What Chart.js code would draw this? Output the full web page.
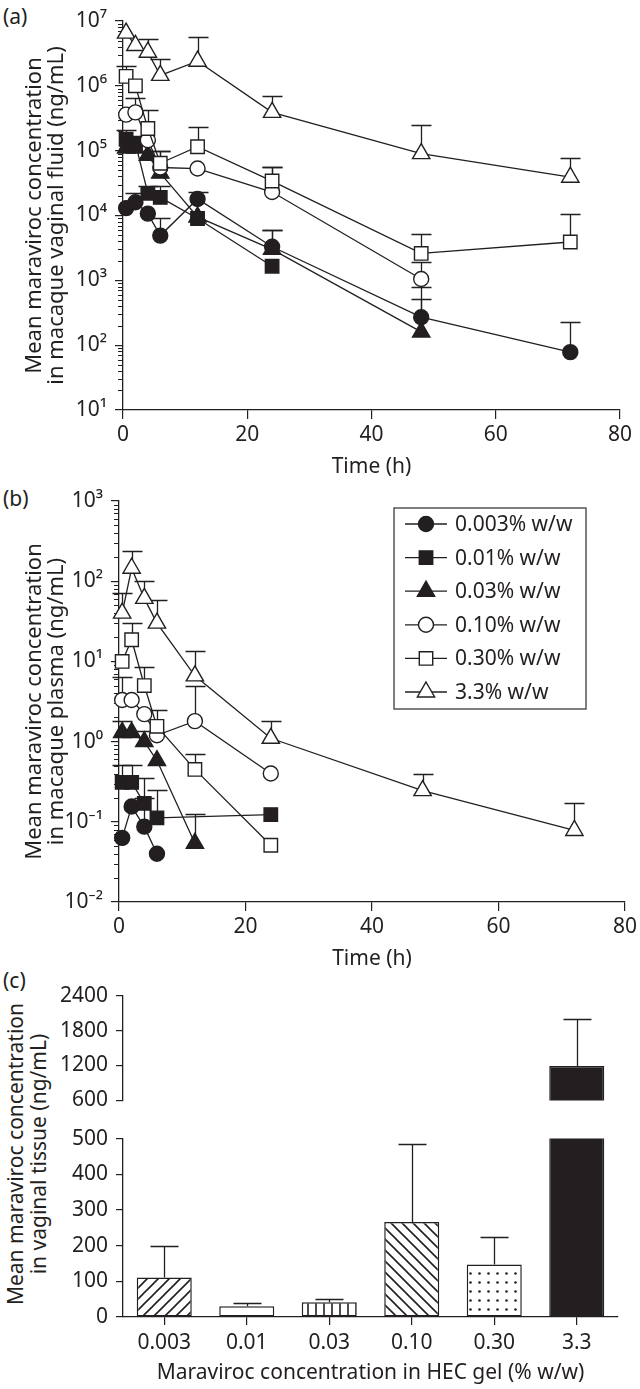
<!DOCTYPE html>
<html>
<head>
<meta charset="utf-8">
<script src="https://cdn.jsdelivr.net/npm/chart.js@4.4.1/dist/chart.umd.min.js"></script>
<style>
  body { margin: 0; background: #fff; width: 640px; height: 1389px; position: relative; overflow: hidden;
         font-family: "Noto Sans", sans-serif; color: #231f20; }
  canvas { position: absolute; left: 0; }
  .tag { position: absolute; left: 3px; font-size: 21px; line-height: 24px; }
  #ctitle { position: absolute; left: 27px; top: 1154px; transform: translate(-50%, -50%) rotate(-90deg);
            white-space: nowrap; text-align: center; font-size: 21px; line-height: 23px; }
</style>
</head>
<body>
<div class="tag" style="top:4px">(a)</div>
<div class="tag" style="top:486px">(b)</div>
<div class="tag" style="top:968px">(c)</div>
<div id="ctitle">Mean maraviroc concentration<br>in vaginal tissue (ng/mL)</div>

<canvas id="fluid" width="640" height="485" style="top:0px"></canvas>
<canvas id="plasma" width="640" height="497" style="top:480px"></canvas>
<canvas id="tissueTop" width="640" height="146" style="top:975px"></canvas>
<canvas id="tissue" width="640" height="271" style="top:1118px"></canvas>

<script>
const INK = '#231f20';
const FONT = '"Noto Sans", sans-serif';

// sampling times (h), shared by (a) and (b)
const times = [0.5, 2, 4, 6, 12, 24, 48, 72];
const doses = ['0.003% w/w', '0.01% w/w', '0.03% w/w', '0.10% w/w', '0.30% w/w', '3.3% w/w'];

// (a) vaginal fluid, ng/mL  (mean, and mean + SD for the error bar)
const fluid003 = [1.3e4, 1.6e4, 1.07e4, 4.9e3, 1.8e4, 3.3e3, 270, 78];
const fluid003Up = [null, 2.2e4, null, 9.3e3, 2.3e4, 5.9e3, 520, 230];
const fluid001 = [1.5e5, 1.3e5, 2.2e4, 1.9e4, 9.0e3, 1.65e3, null, null];
const fluid001Up = [2.1e5, null, 2.9e4, 2.9e4, null, null, null, null];
const fluid003b = [1.1e5, 1.1e5, 8.5e4, 4.5e4, 9.5e3, 3.0e3, 160, null];
const fluid003bUp = [null, null, null, 1.0e5, null, 5.9e3, 800, null];
const fluid010 = [3.6e5, 3.9e5, 1.45e5, 5.5e4, 5.3e4, 2.3e4, 1.05e3, null];
const fluid010Up = [null, 6.5e5, null, null, null, 5.5e4, 1.9e3, null];
const fluid030 = [1.4e6, 1.0e6, 2.2e5, 6.4e4, 1.15e5, 3.4e4, 2.6e3, 3.9e3];
const fluid030Up = [2.0e6, null, 4.2e5, 1.0e5, 2.3e5, 5.5e4, 5.2e3, 1.07e4];
const fluid33 = [6.5e6, 4.2e6, 3.3e6, 1.45e6, 2.4e6, 3.9e5, 9.0e4, 3.9e4];
const fluid33Up = [null, null, 5.3e6, 2.6e6, 5.6e6, 6.9e5, 2.5e5, 7.6e4];

// (b) plasma, ng/mL
const plasma003 = [0.063, 0.155, 0.087, 0.04, null, null, null, null];
const plasma003Up = [null, null, 0.2, null, null, null, null, null];
const plasma001 = [0.31, 0.31, 0.17, 0.112, null, 0.123, null, null];
const plasma001Up = [0.51, 0.51, 0.35, 0.25, null, null, null, null];
const plasma003b = [1.3, 1.3, 1.0, 0.58, 0.054, null, null, null];
const plasma003bUp = [1.8, null, 1.35, null, 0.126, null, null, null];
const plasma010 = [3.3, 3.3, 2.2, 1.2, 1.8, 0.40, null, null];
const plasma010Up = [6.3, null, null, null, 4.9, null, null, null];
const plasma030 = [10, 18.6, 5.0, 1.55, 0.45, 0.051, null, null];
const plasma030Up = [null, 30, 8.5, 2.5, 0.71, null, null, null];
const plasma33 = [40, 145, 61, 30, 6.6, 1.1, 0.245, 0.078];
const plasma33Up = [71, 240, 100, 58, 13.4, 1.8, 0.40, 0.17];

// (c) vaginal tissue, ng/mL
const gelLabels = ['0.003', '0.01', '0.03', '0.10', '0.30', '3.3'];
const tissueMean = [111, 30, 41, 266, 147, 1190];
const tissueUp = [198, 40, 51, 486, 225, 1990];

const markers = [
  { style: 'circle', r: 7.5, fill: INK },
  { style: 'rect', r: 9.5, fill: INK },
  { style: 'triangle', r: 10, fill: INK },
  { style: 'circle', r: 7.5, fill: '#fff' },
  { style: 'rect', r: 9.5, fill: '#fff' },
  { style: 'triangle', r: 10, fill: '#fff' }
];

const SUP = { '-': '\u207B', '0': '\u2070', '1': '\u00B9', '2': '\u00B2', '3': '\u00B3', '4': '\u2074',
              '5': '\u2075', '6': '\u2076', '7': '\u2077', '8': '\u2078', '9': '\u2079' };
function powLabel(v) {
  const e = Math.round(Math.log10(v));
  return '10' + String(e).split('').map(c => SUP[c]).join('');
}

// upper error bars, drawn under the markers
const errorBars = {
  id: 'errorBars',
  beforeDatasetsDraw(chart, args, opts) {
    const ctx = chart.ctx, a = chart.chartArea;
    ctx.save();
    ctx.beginPath();
    ctx.rect(a.left - 20, a.top - 1, a.right - a.left + 40, a.bottom - a.top + 1);
    ctx.clip();
    ctx.strokeStyle = INK;
    ctx.lineWidth = 1.3;
    chart.data.datasets.forEach((ds, i) => {
      if (!ds.upper) return;
      const meta = chart.getDatasetMeta(i);
      const ys = chart.scales[meta.yAxisID];
      meta.data.forEach((el, j) => {
        const u = ds.upper[j];
        if (u == null) return;
        const x = Math.round(el.x) + 0.5;
        const yTop = Math.round(ys.getPixelForValue(u)) + 0.5;
        ctx.beginPath();
        ctx.moveTo(x, el.y);
        ctx.lineTo(x, yTop);
        ctx.moveTo(x - opts.cap / 2, yTop);
        ctx.lineTo(x + opts.cap / 2, yTop);
        ctx.stroke();
      });
    });
    ctx.restore();
  }
};

// short minor ticks between the decades of a log axis
const logMinorTicks = {
  id: 'logMinorTicks',
  beforeDatasetsDraw(chart) {
    const s = chart.scales.y;
    if (s.type !== 'logarithmic') return;
    const ctx = chart.ctx;
    const lo = Math.round(Math.log10(s.min)), hi = Math.round(Math.log10(s.max));
    ctx.save();
    ctx.strokeStyle = INK;
    ctx.lineWidth = 1;
    ctx.beginPath();
    for (let e = lo; e < hi; e++) {
      for (let k = 2; k < 10; k++) {
        const y = Math.round(s.getPixelForValue(k * Math.pow(10, e))) + 0.5;
        ctx.moveTo(s.right - 5, y);
        ctx.lineTo(s.right, y);
      }
    }
    ctx.stroke();
    ctx.restore();
  }
};

// boxed legend inside panel (b)
const boxLegend = {
  id: 'boxLegend',
  afterDraw(chart, args, opts) {
    if (!opts.show) return;
    const ctx = chart.ctx, a = chart.chartArea;
    const bx = a.left + 275, by = a.top + 7, bw = 192, bh = 201;
    ctx.save();
    ctx.strokeStyle = '#555';
    ctx.lineWidth = 1.5;
    ctx.strokeRect(bx, by, bw, bh);
    ctx.font = '21px ' + FONT;
    ctx.textBaseline = 'middle';
    ctx.textAlign = 'left';
    chart.data.datasets.forEach((ds, i) => {
      const y = by + 16 + i * 33.6;
      ctx.strokeStyle = INK;
      ctx.lineWidth = 1.3;
      ctx.beginPath();
      ctx.moveTo(bx + 11, y);
      ctx.lineTo(bx + 53, y);
      ctx.stroke();
      ctx.fillStyle = ds.pointBackgroundColor;
      ctx.lineWidth = 1.4;
      Chart.helpers.drawPoint(ctx, { pointStyle: ds.pointStyle, radius: ds.pointRadius, rotation: 0, borderWidth: 1.4 }, bx + 32, y);
      ctx.fillStyle = INK;
      ctx.fillText(ds.label, bx + 61, y + 1);
    });
    ctx.restore();
  }
};

const tickFont = { family: FONT, size: 21 };
const axisGrid = (len) => ({ drawOnChartArea: false, tickLength: len, color: INK, lineWidth: 1.2 });
const axisBorder = { color: INK, width: 1.3 };

function timeChart(id, series, uppers, expMin, expMax, yTitle, pad, yWidth, legend) {
  const datasets = series.map((vals, i) => {
    const data = [], upper = [];
    times.forEach((t, j) => {
      if (vals[j] != null) { data.push({ x: t, y: vals[j] }); upper.push(uppers[i][j]); }
    });
    const m = markers[i];
    return {
      label: doses[i], data, upper, order: -i,
      borderColor: INK, borderWidth: 1.3, tension: 0, clip: false,
      pointStyle: m.style, pointRadius: m.r, pointBackgroundColor: m.fill,
      pointBorderColor: INK, pointBorderWidth: 1.4
    };
  });
  const decades = [];
  for (let e = expMin; e <= expMax; e++) decades.push(Math.pow(10, e));
  return new Chart(document.getElementById(id), {
    type: 'line',
    data: { datasets },
    plugins: [logMinorTicks, errorBars, boxLegend],
    options: {
      responsive: false, animation: false, devicePixelRatio: 1,
      layout: { padding: pad },
      plugins: { legend: { display: false }, tooltip: { enabled: false },
                 errorBars: { cap: 20 }, boxLegend: { show: legend } },
      scales: {
        x: {
          type: 'linear', min: 0, max: 80,
          afterFit: s => { s.height = 75; },
          ticks: { stepSize: 20, color: INK, font: tickFont, padding: 3, maxRotation: 0 },
          grid: axisGrid(9), border: axisBorder,
          title: { display: true, text: 'Time (h)', color: INK, font: tickFont, padding: { top: 0, bottom: 5 } }
        },
        y: {
          type: 'logarithmic', min: Math.pow(10, expMin), max: Math.pow(10, expMax),
          afterFit: s => { s.width = yWidth; },
          afterBuildTicks: s => { s.ticks = decades.map(v => ({ value: v, major: true })); },
          ticks: { callback: v => powLabel(v), color: INK, font: tickFont, padding: 8 },
          grid: axisGrid(8), border: axisBorder,
          title: { display: true, text: yTitle, color: INK, font: { family: FONT, size: 22, lineHeight: 1.0 },
                   padding: { top: 24 } }
        }
      }
    }
  });
}

timeChart('fluid',
  [fluid003, fluid001, fluid003b, fluid010, fluid030, fluid33],
  [fluid003Up, fluid001Up, fluid003bUp, fluid010Up, fluid030Up, fluid33Up],
  1, 7, ['Mean maraviroc concentration', 'in macaque vaginal fluid (ng/mL)'],
  { left: 0, right: 20, top: 21, bottom: 0 }, 123, false);

timeChart('plasma',
  [plasma003, plasma001, plasma003b, plasma010, plasma030, plasma33],
  [plasma003Up, plasma001Up, plasma003bUp, plasma010Up, plasma030Up, plasma33Up],
  -2, 3, ['Mean maraviroc concentration', 'in macaque plasma (ng/mL)'],
  { left: 0, right: 13, top: 21, bottom: 0 }, 119, true);

// bar fills for panel (c)
function fill(kind) {
  if (kind === 'solid') return INK;
  const s = kind === 'vert' ? 8 : (kind === 'dots' ? 9 : 11);
  const c = document.createElement('canvas');
  c.width = s; c.height = s;
  const g = c.getContext('2d');
  g.fillStyle = '#fff';
  g.fillRect(0, 0, s, s);
  g.strokeStyle = INK;
  g.fillStyle = INK;
  g.lineWidth = 1.6;
  g.beginPath();
  if (kind === 'fwd') {
    g.moveTo(-2, s + 2); g.lineTo(s + 2, -2);
    g.moveTo(-2, 2); g.lineTo(2, -2);
    g.moveTo(s - 2, s + 2); g.lineTo(s + 2, s - 2);
    g.stroke();
  } else if (kind === 'back') {
    g.moveTo(-2, -2); g.lineTo(s + 2, s + 2);
    g.moveTo(s - 2, -2); g.lineTo(s + 2, 2);
    g.moveTo(-2, s - 2); g.lineTo(2, s + 2);
    g.stroke();
  } else if (kind === 'vert') {
    g.moveTo(4, 0); g.lineTo(4, s);
    g.stroke();
  } else if (kind === 'dots') {
    g.arc(2.5, 2.5, 1.3, 0, Math.PI * 2);
    g.fill();
  }
  return g.createPattern(c, 'repeat');
}
const barFills = ['fwd', 'none', 'vert', 'back', 'dots', 'solid'].map(fill);

function tissueChart(id, yMin, yMax, step, pad, showX) {
  return new Chart(document.getElementById(id), {
    type: 'bar',
    data: {
      labels: gelLabels,
      datasets: [{
        data: tissueMean, upper: tissueUp,
        backgroundColor: barFills, borderColor: INK, borderWidth: 1.5, borderSkipped: false,
        categoryPercentage: 1, barPercentage: 0.667, clip: 0
      }]
    },
    plugins: [errorBars],
    options: {
      responsive: false, animation: false, devicePixelRatio: 1,
      layout: { padding: pad },
      plugins: { legend: { display: false }, tooltip: { enabled: false }, errorBars: { cap: 28 } },
      scales: {
        x: {
          display: showX,
          afterFit: s => { if (showX) s.height = 72; },
          ticks: { color: INK, font: tickFont, padding: 5, maxRotation: 0 },
          grid: Object.assign(axisGrid(8), { offset: false }), border: axisBorder,
          title: { display: true, text: 'Maraviroc concentration in HEC gel (% w/w)', color: INK,
                   font: tickFont, padding: { top: 0, bottom: 3 } }
        },
        y: {
          min: yMin, max: yMax,
          afterFit: s => { s.width = 123; },
          ticks: { stepSize: step, color: INK, font: tickFont, padding: 8, callback: v => String(v) },
          grid: axisGrid(7), border: axisBorder
        }
      }
    }
  });
}

tissueChart('tissueTop', 600, 2400, 600, { left: 0, right: 22, top: 20, bottom: 13 }, false);
tissueChart('tissue', 0, 500, 100, { left: 0, right: 22, top: 15, bottom: 0 }, true);
</script>
</body>
</html>
